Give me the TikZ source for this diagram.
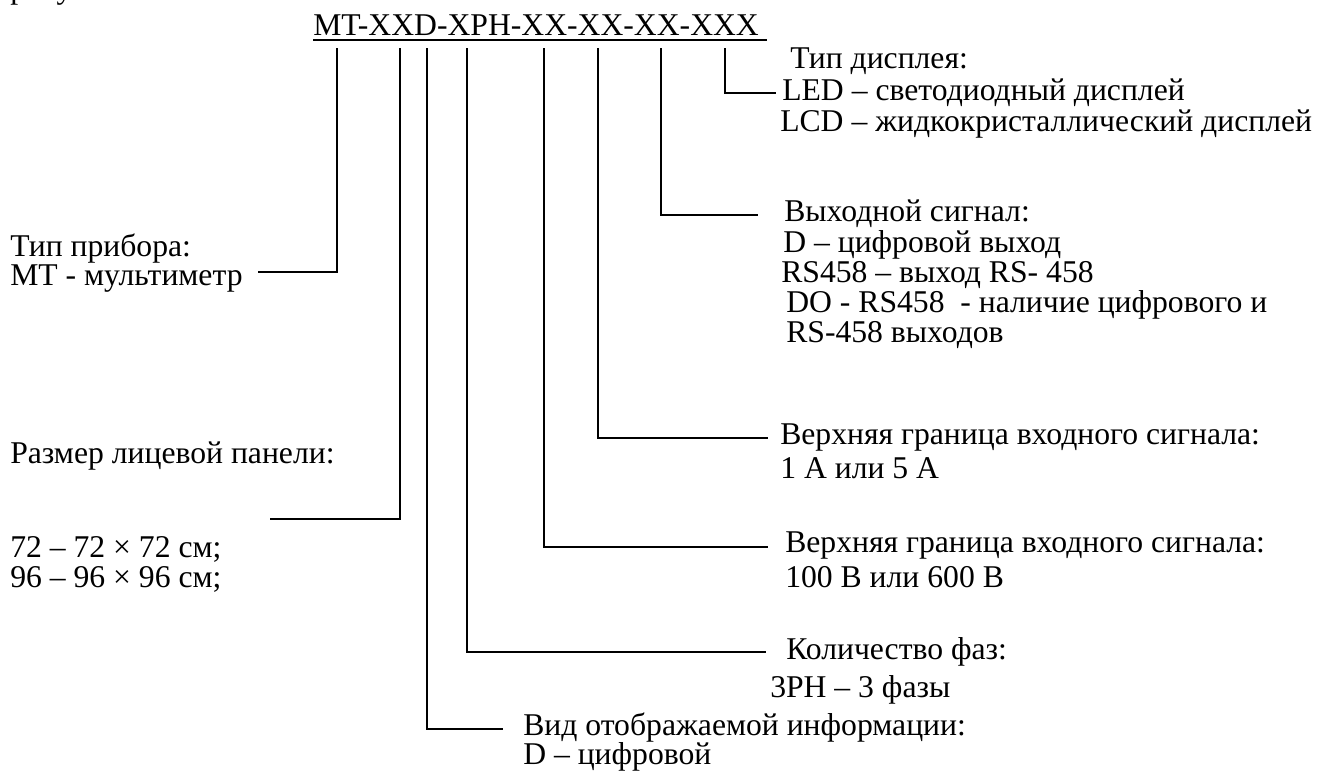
\documentclass[tikz,border=0pt]{standalone}
\usepackage{fontspec}
\setmainfont{Liberation Serif}
\begin{document}
\begin{tikzpicture}[x=0.75pt,y=-0.75pt,
  lbl/.style={anchor=base west, inner sep=0pt, font=\fontsize{23.75}{28}\selectfont},
  wire/.style={line width=1.4pt}]
\useasboundingbox (0,0) rectangle (1334,776);
\clip (0,0) rectangle (1334,776);
% fragment of the preceding text line, cut by the top edge
\node[lbl] (frag) at (10,-2) {рисунке};
% code
\node[lbl] (title) at (313,35) {MT-XXD-XPH-XX-XX-XX-XXX};
\coordinate (ulA) at (313,40);
\coordinate (ulB) at (767,40);
\draw[wire] (ulA) -- (ulB);
% right labels
\node[lbl] (d1) at (790,68) {Тип дисплея:};
\node[lbl] (d2) at (782,100) {LED – светодиодный дисплей};
\node[lbl] (d3) at (780,131) {LCD – жидкокристаллический дисплей};
\node[lbl] (o1) at (784,221) {Выходной сигнал:};
\node[lbl] (o2) at (783,252) {D – цифровой выход};
\node[lbl] (o3) at (781,282) {RS458 – выход RS- 458};
\node[lbl] (o4) at (786,312) {DO - RS458\ \ - наличие цифрового и};
\node[lbl] (o5) at (786,342) {RS-458 выходов};
\node[lbl] (a1) at (780,444) {Верхняя граница входного сигнала:};
\node[lbl] (a2) at (780,478) {1 А или 5 А};
\node[lbl] (v1) at (785,552) {Верхняя граница входного сигнала:};
\node[lbl] (v2) at (785,587) {100 В или 600 В};
\node[lbl] (f1) at (786,659) {Количество фаз:};
\node[lbl] (f2) at (770,697) {3PH – 3 фазы};
\node[lbl] (i1) at (523,735) {Вид отображаемой информации:};
\node[lbl] (i2) at (523,764) {D – цифровой};
% left labels
\node[lbl] (p1) at (10,256) {Тип прибора:};
\node[lbl] (p2) at (10,285) {МТ - мультиметр};
\node[lbl] (s1) at (10,463) {Размер лицевой панели:};
\node[lbl] (s2) at (10,557) {72 – 72 × 72 см;};
\node[lbl] (s3) at (10,587) {96 – 96 × 96 см;};
% leader lines
\coordinate (t1) at (337,48);  \coordinate (e1) at (258,272);
\coordinate (t2) at (400,48);  \coordinate (e2) at (270,519);
\coordinate (t3) at (427,48);  \coordinate (e3) at (503,729);
\coordinate (t4) at (467,48);  \coordinate (e4) at (766,652);
\coordinate (t5) at (544,48);  \coordinate (e5) at (768,547);
\coordinate (t6) at (598,48);  \coordinate (e6) at (768,438);
\coordinate (t7) at (661,48);  \coordinate (e7) at (758,215);
\coordinate (t8) at (725,48);  \coordinate (e8) at (776,93);
\foreach \i in {1,...,8} \draw[wire] (t\i) |- (e\i);
\end{tikzpicture}
\end{document}
